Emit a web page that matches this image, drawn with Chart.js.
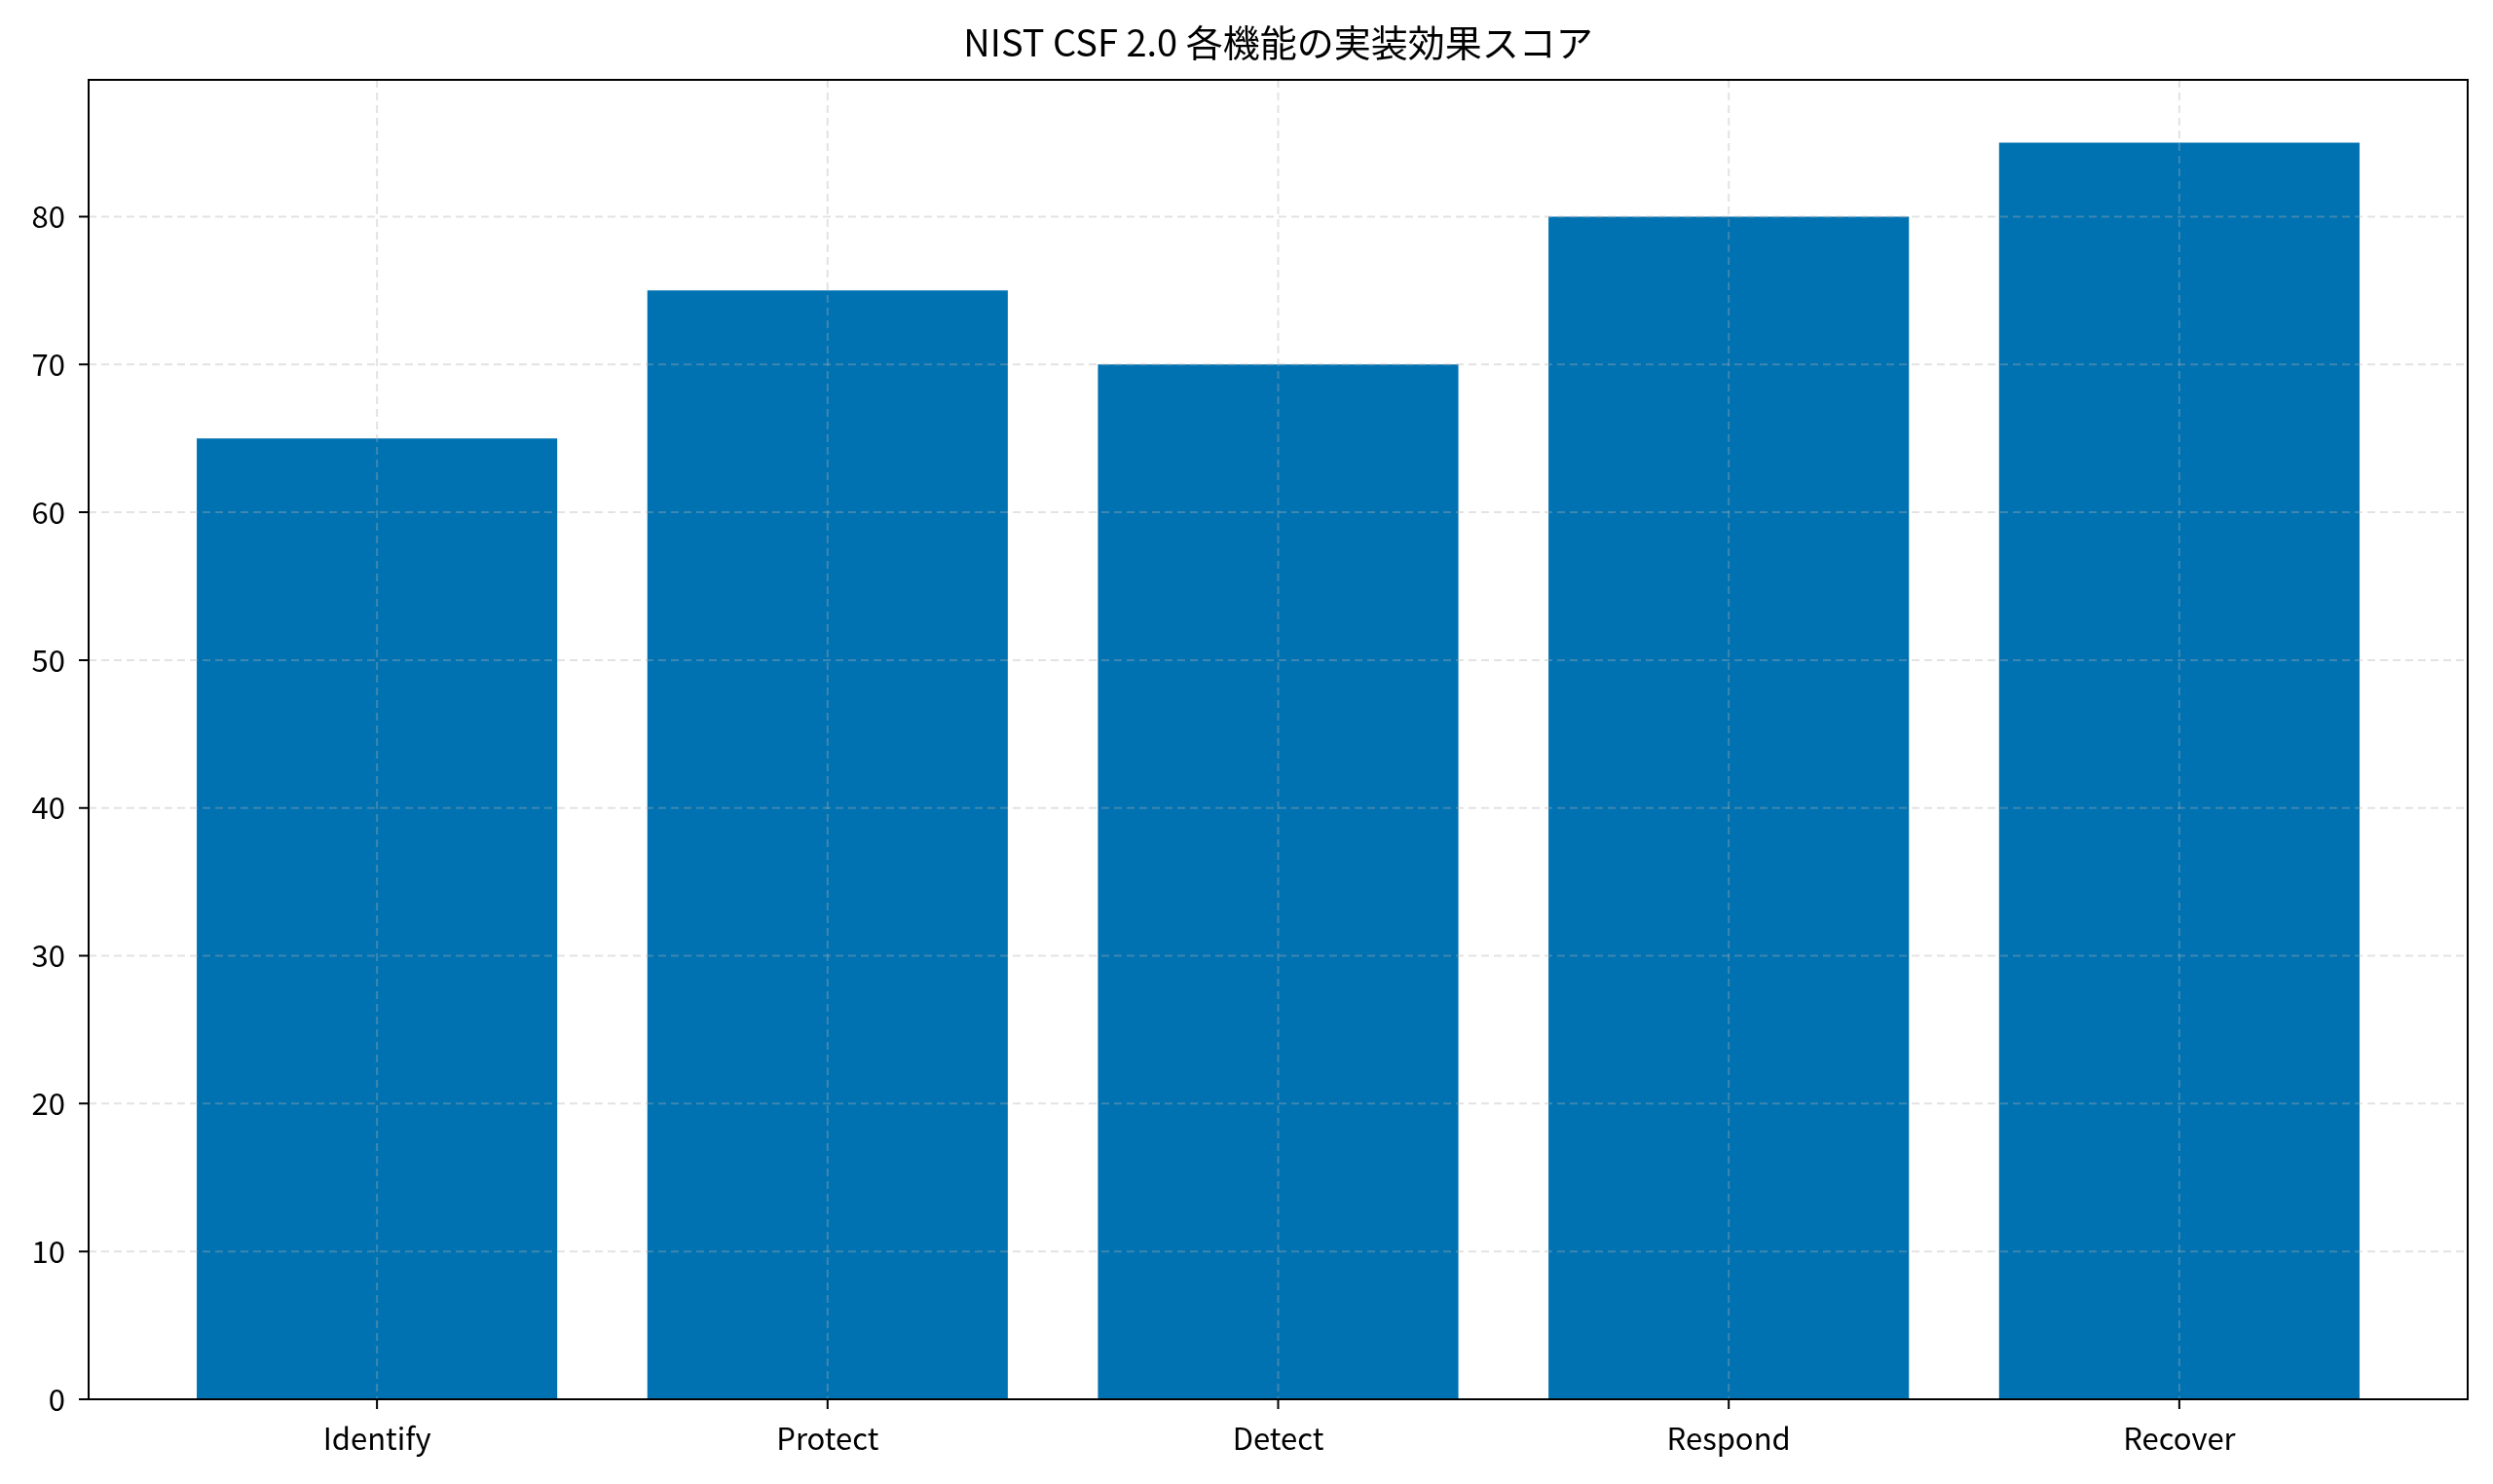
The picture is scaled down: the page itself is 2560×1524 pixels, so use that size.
<!DOCTYPE html>
<html><head><meta charset="utf-8">
<script src="https://cdn.jsdelivr.net/npm/chart.js@4"></script>
<style>html,body{margin:0;padding:0;background:#fff}#c{display:block}</style>
</head><body>
<canvas id="c" width="2560" height="1524" style="width:2560px;height:1524px"></canvas>
<script>
const categories = ["Identify","Protect","Detect","Respond","Recover"];
const scores = [65,75,70,80,85];
const yTicks = [0,10,20,30,40,50,60,70,80];
const titleText = "NIST CSF 2.0 各機能の実装効果スコア";
const FONT = "'Noto Sans CJK JP','Noto Sans',sans-serif";

const overlay = {
  id:'overlay',
  afterDatasetsDraw(chart){
    const ctx=chart.ctx, a=chart.chartArea, xs=chart.scales.x, ys=chart.scales.y;
    ctx.save();
    ctx.strokeStyle='rgba(176,176,176,0.35)'; ctx.lineWidth=2; ctx.setLineDash([8,5]);
    yTicks.forEach(v=>{const y=ys.getPixelForValue(v);ctx.beginPath();ctx.moveTo(a.left,y);ctx.lineTo(a.right,y);ctx.stroke();});
    categories.forEach((c,i)=>{const x=xs.getPixelForValue(i);ctx.beginPath();ctx.moveTo(x,a.top);ctx.lineTo(x,a.bottom);ctx.stroke();});
    ctx.setLineDash([]); ctx.strokeStyle='#000'; ctx.lineWidth=2;
    ctx.strokeRect(a.left,a.top,a.right-a.left,a.bottom-a.top);
    ctx.beginPath();
    yTicks.forEach(v=>{const y=ys.getPixelForValue(v);ctx.moveTo(a.left,y);ctx.lineTo(a.left-10,y);});
    categories.forEach((c,i)=>{const x=xs.getPixelForValue(i);ctx.moveTo(x,a.bottom);ctx.lineTo(x,a.bottom+10);});
    ctx.stroke();
    ctx.fillStyle='#000'; ctx.font='38px '+FONT; ctx.textAlign='center'; ctx.textBaseline='middle';
    ctx.fillText(titleText,(a.left+a.right)/2,44);
    ctx.restore();
  }
};

new Chart(document.getElementById('c'),{
  type:'bar',
  data:{datasets:[{data:categories.map((c,i)=>({x:i,y:scores[i]})),backgroundColor:'#0072B2',borderWidth:0,barPercentage:0.8,categoryPercentage:1}]},
  options:{
    responsive:false,animation:false,devicePixelRatio:1,
    layout:{padding:{top:82,right:26,left:0,bottom:0}},
    plugins:{legend:{display:false},tooltip:{enabled:false},title:{display:false}},
    scales:{
      x:{type:'linear',min:-0.64,max:4.64,offset:false,
        afterBuildTicks(s){s.ticks=categories.map((c,i)=>({value:i}));},
        afterFit(s){s.height=87;},
        grid:{display:false},border:{display:false},
        ticks:{color:'#000',font:{family:FONT,size:31},padding:14,maxRotation:0,autoSkip:false,callback:v=>categories[v]}},
      y:{min:0,max:89.25,
        afterBuildTicks(s){s.ticks=yTicks.map(v=>({value:v}));},
        afterFit(s){s.width=91;},
        grid:{display:false},border:{display:false},
        ticks:{color:'#000',font:{family:FONT,size:31},padding:16}}
    }
  },
  plugins:[overlay]
});
</script>
</body></html>
